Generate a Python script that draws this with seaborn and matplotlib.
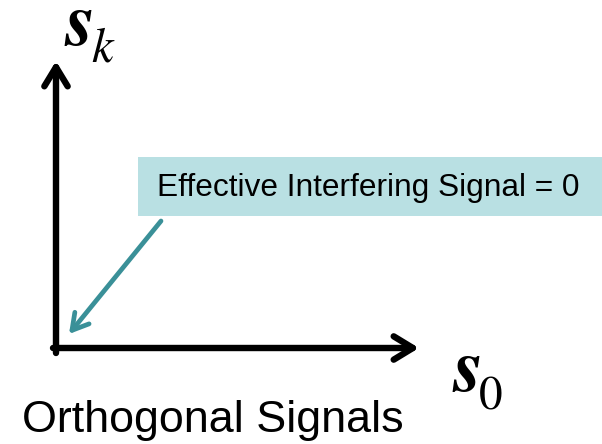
import matplotlib
matplotlib.use("Agg")
import matplotlib.pyplot as plt
import seaborn as sns
import pandas as pd

sns.set_theme(style="white")
plt.rcParams['font.family'] = ['Liberation Sans', 'DejaVu Sans']
plt.rcParams['text.color'] = 'black'

# Diagram geometry (pixel space of the 602x444 canvas)
axis_origin = [56, 348]
axis_x_end = [419, 348]
axis_y_end = [56, 61]
callout_start = [161, 221]
callout_end = [69, 334]
box_xy = [138, 157]
box_wh = [470, 59]

callout_text = "Effective Interfering Signal = 0"
caption_text = "Orthogonal Signals"
label_y_main, label_y_sub = r"$\boldsymbol{s}$", r"$k$"
label_x_main, label_x_sub = r"$\boldsymbol{s}$", "0"

fig = plt.figure(figsize=(6.02, 4.44), dpi=100)
ax = fig.add_axes([0, 0, 1, 1])
ax.set_xlim(0, 602)
ax.set_ylim(444, 0)
ax.axis("off")

# axis lines via seaborn
df = pd.DataFrame({"x": [axis_origin[0], axis_origin[0]], "y": [axis_origin[1] + 5, axis_origin[1]]})
sns.lineplot(data=df, x="x", y="y", ax=ax, color="black", lw=4.6, sort=False)

head = "->,head_length=1.15,head_width=0.7"
ax.annotate("", xy=axis_x_end, xytext=(axis_origin[0] - 3, axis_origin[1]),
            arrowprops=dict(arrowstyle=head, lw=4.6, color="black", shrinkA=0, shrinkB=0))
ax.annotate("", xy=axis_y_end, xytext=(axis_origin[0], axis_origin[1] + 5),
            arrowprops=dict(arrowstyle=head, lw=4.6, color="black", shrinkA=0, shrinkB=0))

# callout box
ax.add_patch(plt.Rectangle(box_xy, box_wh[0], box_wh[1], facecolor="#b9e0e3",
                           edgecolor="none", zorder=1))
ax.text(157, box_xy[1] + box_wh[1] / 2 + 1, callout_text, fontsize=22.8,
        va="center", ha="left", color="black", zorder=2)

ax.annotate("", xy=callout_end, xytext=callout_start,
            arrowprops=dict(arrowstyle="->,head_length=0.95,head_width=0.55", lw=3.4,
                            color="#3a9098", shrinkA=0, shrinkB=0))

# axis labels
serif = ['STIXGeneral', 'DejaVu Serif']
ax.text(64, 45, label_y_main, fontsize=55, math_fontfamily="stix",
        va="baseline", ha="left", color="black")
ax.text(91, 62, label_y_sub, fontsize=35, math_fontfamily="stix",
        va="baseline", ha="left", color="black")
ax.text(452, 391, label_x_main, fontsize=55, math_fontfamily="stix",
        va="baseline", ha="left", color="black")
ax.text(479, 409, label_x_sub, fontsize=34, family=serif,
        va="baseline", ha="left", color="black")

ax.text(22, 432, caption_text, fontsize=32.3, va="baseline", ha="left", color="black")

fig.savefig("out.png", dpi=100)
